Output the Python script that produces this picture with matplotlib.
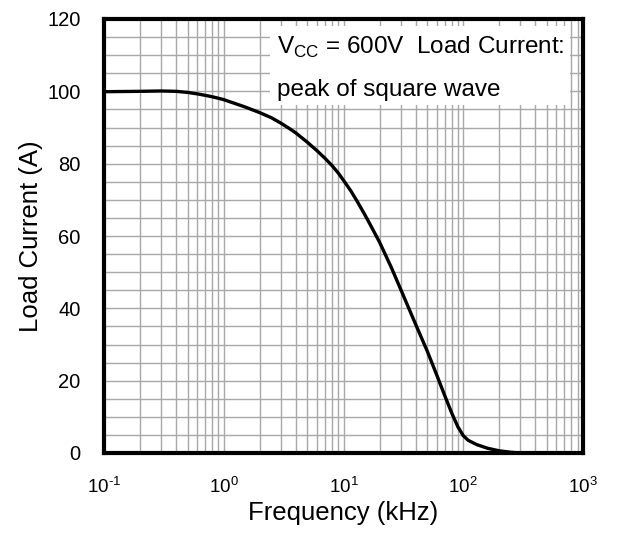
import matplotlib
matplotlib.use("Agg")
import matplotlib.pyplot as plt
from matplotlib.patches import Rectangle
from matplotlib.ticker import LogLocator, MultipleLocator, FixedLocator

plt.rcParams['font.family'] = ['Liberation Sans', 'DejaVu Sans']
plt.rcParams['mathtext.fontset'] = 'custom'
plt.rcParams['mathtext.rm'] = 'Liberation Sans'
plt.rcParams['axes.unicode_minus'] = False

freq_khz = [0.1, 0.2, 0.3, 0.4, 0.5, 0.6, 0.7, 0.8, 0.9, 1, 1.25, 1.5, 2, 2.5, 3, 3.5,
            4, 5, 6, 7, 8, 9, 10, 11.5, 13, 15, 16.5, 20, 25, 30, 40, 50, 60, 70,
            80, 90, 100, 110, 130, 160, 200, 250, 300, 1000]
load_current = [99.9, 100, 100.1, 100.0, 99.7, 99.3, 98.9, 98.5, 98.1, 97.7, 96.6,
                95.7, 94.1, 92.7, 91.2, 89.8, 88.5, 85.9, 83.6, 81.5, 79.5, 77.5,
                75.4, 72.5, 69.6, 66.0, 63.5, 58.3, 51.4, 45.3, 35.6, 28.2, 21.6,
                15.9, 11.1, 7.3, 4.8, 3.5, 2.3, 1.3, 0.6, 0.2, 0.0, 0.0]
y_ticks = [0, 20, 40, 60, 80, 100, 120]
x_ticks = [0.1, 1, 10, 100, 1000]
x_tick_labels = [r'$\mathregular{10^{\text{-}1}}$', r'$\mathregular{10^{0}}$',
                 r'$\mathregular{10^{1}}$', r'$\mathregular{10^{2}}$',
                 r'$\mathregular{10^{3}}$']
note_line1 = r'V$_{\mathregular{CC}}$ = 600V  Load Current:'
note_line2 = 'peak of square wave'

fig = plt.figure(figsize=(6.23, 5.35), dpi=100)
ax = fig.add_axes([104/623, (535-453)/535, (583-104)/623, (453-19)/535])

ax.plot(freq_khz, load_current, color='black', lw=2.4, zorder=4,
        solid_joinstyle='round')
ax.set_xscale('log')
ax.set_xlim(0.1, 1000)
ax.set_ylim(0, 120)

ax.xaxis.set_major_locator(FixedLocator(x_ticks))
ax.xaxis.set_minor_locator(LogLocator(base=10, subs=[2, 3, 4, 5, 6, 7, 8, 9], numticks=20))
ax.set_xticklabels(x_tick_labels)
ax.yaxis.set_major_locator(FixedLocator(y_ticks))
ax.yaxis.set_minor_locator(MultipleLocator(5))

ax.grid(True, which='both', color='#a8a8a8', lw=1.0)
ax.set_axisbelow(True)
ax.tick_params(which='both', length=0)
ax.tick_params(axis='y', labelsize=14.5, pad=17)
ax.tick_params(axis='x', labelsize=13.5, pad=17)

for s in ax.spines.values():
    s.set_linewidth(3)
    s.set_zorder(5)

ax.set_xlabel('Frequency (kHz)', fontsize=18.5, labelpad=3)
ax.set_ylabel('Load Current (A)', fontsize=18.5, labelpad=3)

ax.add_patch(Rectangle((0.347, 0.802), 0.626, 0.182, transform=ax.transAxes,
                       facecolor='white', edgecolor='none', zorder=2))
ax.text(0.362, 0.920, note_line1, transform=ax.transAxes, fontsize=17.5, zorder=3,
        va='baseline', ha='left')
ax.text(0.362, 0.823, note_line2, transform=ax.transAxes, fontsize=17.5, zorder=3,
        va='baseline', ha='left')

fig.savefig('out.png', dpi=100)
